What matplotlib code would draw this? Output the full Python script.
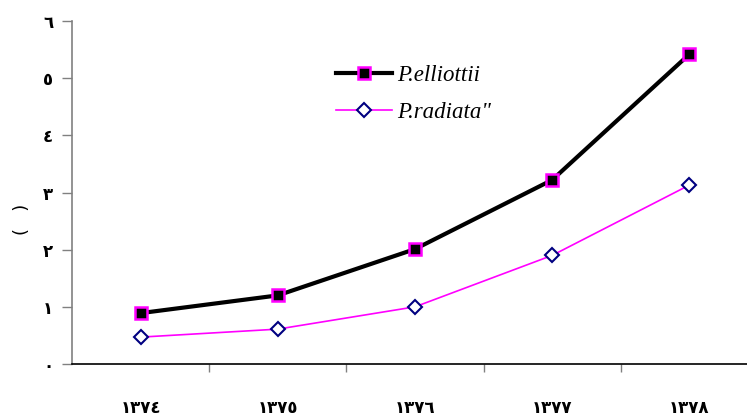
import matplotlib.pyplot as plt

years = ['١٣٧٤', '١٣٧٥', '١٣٧٦', '١٣٧٧', '١٣٧٨']
elliottii = [0.89, 1.2, 2.01, 3.22, 5.42]
radiata = [0.47, 0.61, 1.0, 1.9, 3.13]
yticks = [0, 1, 2, 3, 4, 5, 6]
ytick_labels = ['٠', '١', '٢', '٣', '٤', '٥', '٦']

fig = plt.figure(figsize=(7.47, 4.19), dpi=100)
ax = fig.add_axes([72 / 747, 1 - 364 / 419, 686 / 747, 343 / 419])

x = list(range(len(years)))
ax.plot(x, elliottii, color='black', lw=3, marker='s', ms=8,
        mfc='black', mec='#ff00ff', mew=1.8, label='P.elliottii', zorder=3)
ax.plot(x, radiata, color='#ff00ff', lw=1.2, marker='D', ms=7,
        mfc='white', mec='#000080', mew=1.5, label='P.radiata"', zorder=3)

ax.set_xlim(-0.5, 4.5)
ax.set_ylim(0, 6)

# y axis
ax.set_yticks(yticks)
ax.set_yticklabels(ytick_labels, fontsize=12, fontweight='bold')
ax.tick_params(axis='y', length=7, width=1, color='#808080', pad=6.5)
# axis title (only the brackets survive in the original)
fig.text(22 / 747, 1 - 219 / 419, '(   )', fontsize=13, rotation=90,
         ha='center', va='center')

# x axis: ticks on category boundaries, labels centred
ax.set_xticks([0.5, 1.5, 2.5, 3.5])
ax.set_xticklabels([])
ax.set_xticks(x, minor=True)
ax.set_xticklabels(years, minor=True, fontsize=12, fontweight='bold')
ax.tick_params(axis='x', which='major', length=6, width=1, color='#808080')
ax.tick_params(axis='x', which='minor', length=0, pad=25)

for s in ['top', 'right']:
    ax.spines[s].set_visible(False)
ax.spines['left'].set_color('#808080')
ax.spines['left'].set_linewidth(1.2)
ax.spines['bottom'].set_color('black')
ax.spines['bottom'].set_linewidth(1.2)

leg = ax.legend(loc='upper left', bbox_to_anchor=(315 / 747, 1 - 44 / 419),
                bbox_transform=fig.transFigure, frameon=False,
                prop={'family': 'Liberation Serif', 'style': 'italic', 'size': 16.5},
                handlelength=2.45, handletextpad=0.25, labelspacing=0.72)

fig.savefig('out.png', dpi=100)
